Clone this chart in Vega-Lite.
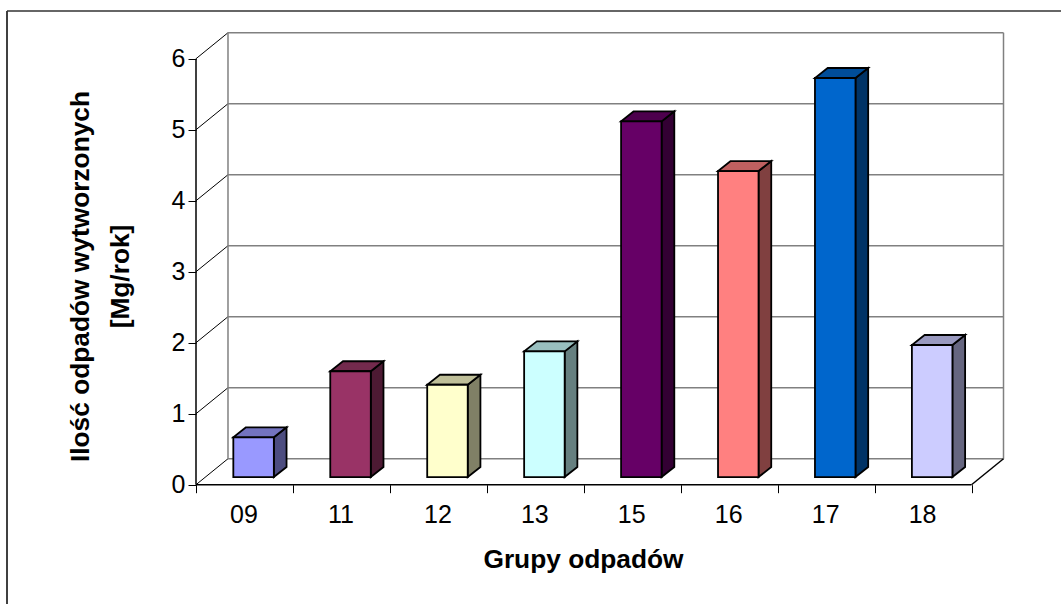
{
"$schema":"https://vega.github.io/schema/vega-lite/v6.json",
"width":1054,"height":593,
"autosize":{"type":"none"},
"padding":{"left":7,"top":11,"right":0,"bottom":0},
"background":"white",
"config":{"view":{"stroke":null},"font":"Liberation Sans"},
"datasets":{
"grupy":[{"grupa":"09","ilosc":0.56},{"grupa":"11","ilosc":1.49},{"grupa":"12","ilosc":1.3},{"grupa":"13","ilosc":1.77},{"grupa":"15","ilosc":5.01},{"grupa":"16","ilosc":4.31},{"grupa":"17","ilosc":5.62},{"grupa":"18","ilosc":1.86}],
"poziomy":[{"poziom":0},{"poziom":1},{"poziom":2},{"poziom":3},{"poziom":4},{"poziom":5},{"poziom":6}],
"krawedzie":[{"krawedz":"rama-lewa","xa":-1.9497,"xb":-1.9497,"ya":-1.68,"yb":6.672},
{"krawedz":"rama-gorna","xa":-1.9497,"xb":8.9231,"ya":6.672,"yb":6.672},
{"krawedz":"sciana-lewa","xa":0.33,"xb":0.33,"ya":0.366,"yb":6.366},
{"krawedz":"sciana-prawa","xa":8.33,"xb":8.33,"ya":0.366,"yb":6.366},
{"krawedz":"podloga-prawa","xa":8,"xb":8.33,"ya":0,"yb":0.366},
{"krawedz":"os-y","xa":0,"xb":0,"ya":0,"yb":6},
{"krawedz":"os-x","xa":0,"xb":8,"ya":0,"yb":0}]
},
"layer":[
{"data":{"name":"poziomy"},"transform":[{"calculate":"datum.poziom+0.366","as":"tyl"},{"calculate":"0.33","as":"xa"},{"calculate":"8.33","as":"xb"}],
 "mark":{"type":"rule","color":"#808080","strokeWidth":1.4},
 "encoding":{"x":{"field":"xa","type":"quantitative","scale":{"domain":[-1.9497,8.9231],"nice":false,"zero":false},
   "axis":{"orient":"bottom","offset":-119.3,"values":[0,1,2,3,4,5,6,7,8],"domain":false,"grid":false,"tickColor":"#000000","tickSize":8,"labelExpr":"['09','11','12','13','15','16','17','18',''][datum.value]","labelOffset":47.5,"labelOverlap":false,"labelFlush":false,"labelFontSize":25,"labelColor":"#000000","labelPadding":10,"title":"Grupy odpadów","titleFontSize":26.3,"titleFontWeight":"bold","titleColor":"#000000","titleX":576,"titleY":62,"titleBaseline":"top"}},
  "x2":{"field":"xb"},
  "y":{"field":"tyl","type":"quantitative","scale":{"domain":[-1.68,6.672],"nice":false,"zero":false},
   "axis":{"orient":"left","offset":-189,"values":[0,1,2,3,4,5,6],"domain":false,"grid":false,"tickColor":"#000000","tickSize":8,"labelFontSize":25,"labelColor":"#000000","labelPadding":3,"title":["Ilość odpadów wytworzonych","[Mg/rok]"],"titleFontSize":26.3,"titleFontWeight":"bold","titleColor":"#000000","titleX":-129,"titleY":265,"titleAlign":"center","titleAngle":-90,"titleBaseline":"top","titleLineHeight":40}}}},
{"data":{"name":"poziomy"},"transform":[{"calculate":"datum.poziom+0.366","as":"tyl"},{"calculate":"0","as":"xa"},{"calculate":"0.33","as":"xb"}],
 "mark":{"type":"rule","color":"#000000","strokeWidth":1},
 "encoding":{"x":{"field":"xa","type":"quantitative","scale":{"domain":[-1.9497,8.9231],"nice":false,"zero":false},"axis":null},"x2":{"field":"xb"},
  "y":{"field":"poziom","type":"quantitative","scale":{"domain":[-1.68,6.672],"nice":false,"zero":false},"axis":null},"y2":{"field":"tyl"}}},
{"data":{"name":"krawedzie"},"mark":{"type":"rule"},
 "encoding":{"x":{"field":"xa","type":"quantitative","scale":{"domain":[-1.9497,8.9231],"nice":false,"zero":false},"axis":null},"x2":{"field":"xb"},
  "y":{"field":"ya","type":"quantitative","scale":{"domain":[-1.68,6.672],"nice":false,"zero":false},"axis":null},"y2":{"field":"yb"},
  "stroke":{"field":"krawedz","type":"nominal","legend":null,"scale":{"domain":["rama-lewa","rama-gorna","sciana-lewa","sciana-prawa","podloga-prawa","os-y","os-x"],"range":["#000000","#333333","#808080","#808080","#000000","#000000","#000000"]}},
  "strokeWidth":{"field":"krawedz","type":"nominal","legend":null,"scale":{"domain":["rama-lewa","rama-gorna","sciana-lewa","sciana-prawa","podloga-prawa","os-y","os-x"],"range":[1.5,1.5,2,2,1,1,1]}}}},
{"data":{"name":"grupy"},
 "transform":[{"window":[{"op":"row_number","as":"nr"}]},{"calculate":"[0,1]","as":"t"},{"flatten":["t"]},
  {"calculate":"datum.nr-1+0.385+0.418+datum.t*0.131","as":"sx"},
  {"calculate":"0.108+datum.t*0.141","as":"sd"},
  {"calculate":"0.108+datum.ilosc+datum.t*0.141","as":"sg"}],
 "mark":{"type":"area","stroke":"#000000","strokeWidth":1.8,"strokeJoin":"miter"},
 "encoding":{"x":{"field":"sx","type":"quantitative","scale":{"domain":[-1.9497,8.9231],"nice":false,"zero":false},"axis":null},
  "y":{"field":"sd","type":"quantitative","scale":{"domain":[-1.68,6.672],"nice":false,"zero":false},"axis":null},"y2":{"field":"sg"},
  "detail":{"field":"grupa"},
  "color":{"field":"grupa","type":"nominal","legend":null,"scale":{"domain":["09","11","12","13","15","16","17","18"],"range":["#4D4D80","#4D1A33","#808066","#668080","#330033","#804040","#003366","#666680"]}}}},
{"data":{"name":"grupy"},
 "transform":[{"window":[{"op":"row_number","as":"nr"}]},{"calculate":"[0,1]","as":"t"},{"flatten":["t"]},
  {"calculate":"datum.nr-1+0.385+datum.t*0.131","as":"gx"},
  {"calculate":"datum.nr-1+0.385+0.418+datum.t*0.131","as":"gx2"},
  {"calculate":"0.108+datum.ilosc+datum.t*0.141","as":"gy"}],
 "mark":{"type":"area","orient":"horizontal","stroke":"#000000","strokeWidth":1.8,"strokeJoin":"miter"},
 "encoding":{"y":{"field":"gy","type":"quantitative","scale":{"domain":[-1.68,6.672],"nice":false,"zero":false},"axis":null},
  "x":{"field":"gx","type":"quantitative","scale":{"domain":[-1.9497,8.9231],"nice":false,"zero":false},"axis":null},"x2":{"field":"gx2"},
  "detail":{"field":"grupa"},
  "color":{"field":"grupa","type":"nominal","legend":null,"scale":{"domain":["09","11","12","13","15","16","17","18"],"range":["#7373BF","#732A4D","#BFBF99","#99BFBF","#4D004D","#BF6060","#004D99","#9999BF"]}}}},
{"data":{"name":"grupy"},
 "transform":[{"window":[{"op":"row_number","as":"nr"}]},
  {"calculate":"datum.nr-1+0.385","as":"px"},
  {"calculate":"datum.nr-1+0.385+0.418","as":"px2"},
  {"calculate":"0.108","as":"pd"},
  {"calculate":"0.108+datum.ilosc","as":"pg"}],
 "mark":{"type":"rect","stroke":"#000000","strokeWidth":1.8},
 "encoding":{"x":{"field":"px","type":"quantitative","scale":{"domain":[-1.9497,8.9231],"nice":false,"zero":false},"axis":null},"x2":{"field":"px2"},
  "y":{"field":"pd","type":"quantitative","scale":{"domain":[-1.68,6.672],"nice":false,"zero":false},"axis":null},"y2":{"field":"pg"},
  "color":{"field":"grupa","type":"nominal","legend":null,"scale":{"domain":["09","11","12","13","15","16","17","18"],"range":["#9999FF","#993366","#FFFFCC","#CCFFFF","#660066","#FF8080","#0066CC","#CCCCFF"]}}}}
],
"resolve":{"scale":{"color":"independent"},"axis":{"x":"independent","y":"independent"}}
}
